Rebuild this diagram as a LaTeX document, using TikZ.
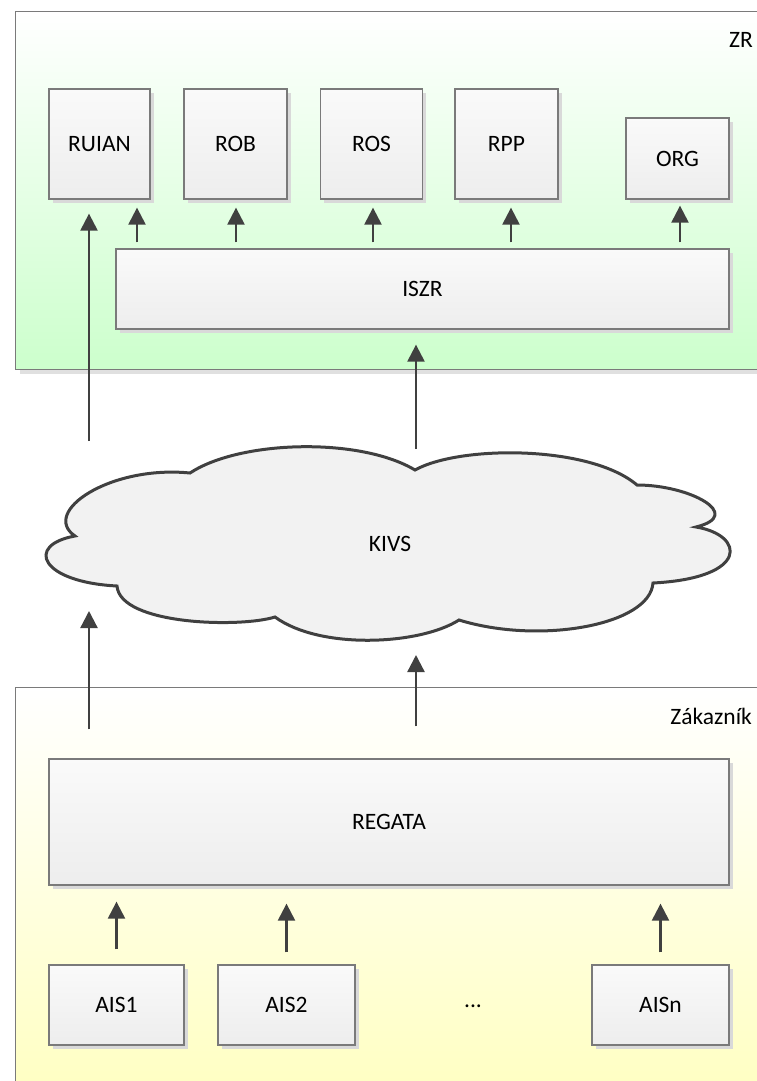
\documentclass[tikz,border=0pt]{standalone}
\usepackage{fontspec}
\setmainfont{Carlito}
\usetikzlibrary{shadows,arrows.meta}
\definecolor{arrowc}{HTML}{404040}
\definecolor{boxborder}{HTML}{7A7A7A}
\definecolor{greenbot}{HTML}{CCFFCC}
\definecolor{yellowbot}{HTML}{FFFFC0}
\definecolor{cloudfill}{HTML}{F2F2F2}
\tikzset{
  container/.style={draw=boxborder, line width=1.3pt, anchor=north west, inner sep=0pt,
     drop shadow={shadow xshift=4pt, shadow yshift=-4pt, fill=black!12, opacity=1}},
  box/.style={draw=boxborder, line width=1.3pt, top color=white!98!black, bottom color=white!93!black,
     inner sep=0pt, font=\fontsize{23.5}{27}\selectfont,
     drop shadow={shadow xshift=3.5pt, shadow yshift=-3.5pt, fill=black!15, opacity=1}},
  arr/.style={draw=arrowc, line width=2.3pt, -{Triangle[length=17pt,width=17pt]}},
  lbl/.style={font=\fontsize{23.5}{27}\selectfont, inner sep=0pt}
}
\begin{document}
\begin{tikzpicture}[x=1pt,y=-1pt]
\useasboundingbox (0,0) rectangle (757,1081);
\clip (0,0) rectangle (757,1081);
% containers
\node[container, top color=white, bottom color=greenbot, minimum width=770pt, minimum height=358pt] (zr) at (15,11) {};
\node[lbl, anchor=east] (zrlbl) at (753,40) {ZR};
\node[container, top color=white, bottom color=yellowbot, minimum width=770pt, minimum height=420pt] (zak) at (15,687) {};
\node[lbl, anchor=east] (zaklbl) at (752,716) {Zákazník};
% top registry boxes
\node[box, minimum width=101pt, minimum height=110pt] (ruian) at (99.5,144) {RUIAN};
\node[box, minimum width=103pt, minimum height=110pt] (rob) at (235.5,144) {ROB};
\node[box, minimum width=102pt, minimum height=110pt] (ros) at (371.5,144) {ROS};
\node[box, minimum width=103pt, minimum height=110pt] (rpp) at (506.5,144) {RPP};
\node[box, minimum width=103pt, minimum height=81pt] (org) at (677.5,158.5) {ORG};
\node[box, minimum width=613pt, minimum height=80pt] (iszr) at (422.5,289) {ISZR};
% cloud
\path[draw=arrowc, line width=3pt, fill=cloudfill]
  (75,536) .. controls (40,512) and (110,465) .. (190,473)
  .. controls (240,440) and (360,437) .. (415,470)
  .. controls (460,445) and (590,445) .. (637,485)
  .. controls (690,485) and (745,515) .. (696,527)
  .. controls (745,535) and (750,578) .. (653,583)
  .. controls (650,625) and (540,645) .. (459,620)
  .. controls (420,645) and (320,650) .. (275,617)
  .. controls (240,628) and (120,625) .. (117,586)
  .. controls (40,582) and (25,545) .. (75,536) -- cycle;
\node[lbl] (kivs) at (390,544) {KIVS};
% customer boxes
\node[box, minimum width=680pt, minimum height=126pt] (regata) at (389,822) {REGATA};
\node[box, minimum width=135pt, minimum height=80pt] (ais1) at (116.5,1005) {AIS1};
\node[box, minimum width=137pt, minimum height=80pt] (ais2) at (286.5,1005) {AIS2};
\node[box, minimum width=137pt, minimum height=80pt] (aisn) at (660.5,1005) {AISn};
\node[lbl] (dots) at (473,1006) {...};
% free ends near the cloud
\coordinate (cl1top) at (89,441);
\coordinate (cl2top) at (416,449);
\coordinate (cl1bot) at (89,611);
\coordinate (cl2bot) at (416,655);
% arrows ZR
\draw[arr, shorten <=6pt, shorten >=8pt] (137,0 |- iszr.north) -- (137,0 |- ruian.south);
\draw[arr, shorten <=6pt, shorten >=8pt] (236,0 |- iszr.north) -- (236,0 |- rob.south);
\draw[arr, shorten <=6pt, shorten >=8pt] (373,0 |- iszr.north) -- (373,0 |- ros.south);
\draw[arr, shorten <=6pt, shorten >=8pt] (511,0 |- iszr.north) -- (511,0 |- rpp.south);
\draw[arr, shorten <=6pt, shorten >=6pt] (680,0 |- iszr.north) -- (680,0 |- org.south);
\draw[arr, shorten >=14pt] (cl1top) -- (cl1top |- ruian.south);
\draw[arr, shorten >=15pt] (cl2top) -- (cl2top |- iszr.south);
% arrows customer
\draw[arr, shorten <=29pt] (cl1bot |- regata.north) -- (cl1bot);
\draw[arr, shorten <=32pt] (cl2bot |- regata.north) -- (cl2bot);
\draw[arr, shorten <=15pt, shorten >=16pt] (ais1.north) -- (ais1.north |- regata.south);
\draw[arr, shorten <=12pt, shorten >=18pt] (ais2.north) -- (ais2.north |- regata.south);
\draw[arr, shorten <=12pt, shorten >=18pt] (aisn.north) -- (aisn.north |- regata.south);
\end{tikzpicture}
\end{document}
